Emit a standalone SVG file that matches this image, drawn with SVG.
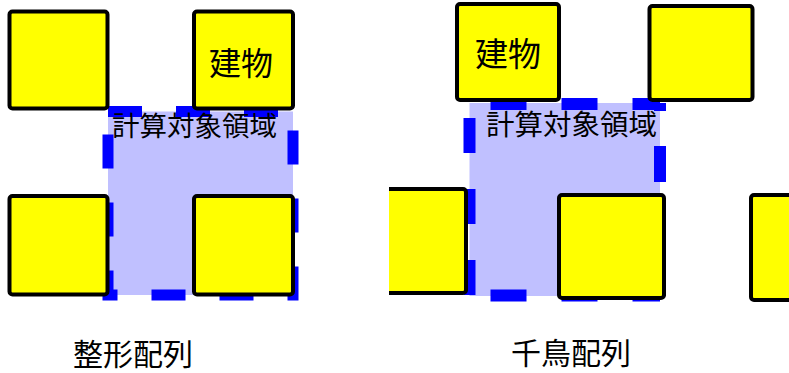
<svg xmlns="http://www.w3.org/2000/svg" width="789" height="373" viewBox="0 0 789 373">
<style>
.bld{fill:#ffff00;stroke:#000;stroke-width:4;}
.area{fill:#c0c0ff;}
.dash{fill:none;stroke:#0000ff;}
text{font-family:"Noto Sans CJK JP","Noto Sans CJK SC",sans-serif;fill:#000;}
.big{font-size:32px;text-anchor:middle;}
.reg{font-size:27.5px;}
.cap{font-size:30px;text-anchor:middle;}
</style>
<defs>
<clipPath id="rp"><rect x="389" y="0" width="400" height="373"/></clipPath>
</defs>
<rect width="789" height="373" fill="#fff"/>

<g id="panel-grid">
  <g id="region-grid">
    <rect class="area" x="108" y="111.5" width="185" height="183.5"/>
    <rect class="dash" x="108" y="111.5" width="185" height="183.5" stroke-width="11" stroke-dasharray="34 34"/>
    <text class="reg" x="112" y="136">計算対象領域</text>
  </g>
  <g id="bldg-grid-tl"><rect class="bld" x="9.5" y="11.5" width="98" height="97" rx="3"/></g>
  <g id="bldg-grid-tr"><rect class="bld" x="194" y="11.5" width="99" height="97" rx="3"/><text class="big" x="241" y="75">建物</text></g>
  <g id="bldg-grid-bl"><rect class="bld" x="9.5" y="196" width="98" height="98.5" rx="3"/></g>
  <g id="bldg-grid-br"><rect class="bld" x="194" y="196" width="99" height="98.5" rx="3"/></g>
  <text id="label-grid" class="cap" x="133" y="364.5">整形配列</text>
</g>

<g id="panel-staggered" clip-path="url(#rp)">
  <g id="region-staggered">
    <rect class="area" x="469.5" y="103" width="190.5" height="193"/>
    <line class="dash" x1="469.5" y1="104" x2="660" y2="104" stroke-width="12" stroke-dasharray="36 35" stroke-dashoffset="50"/>
    <line class="dash" x1="469.5" y1="295.5" x2="660" y2="295.5" stroke-width="12" stroke-dasharray="36 35" stroke-dashoffset="50"/>
    <line class="dash" x1="469.5" y1="103" x2="469.5" y2="296" stroke-width="12" stroke-dasharray="35 36" stroke-dashoffset="56"/>
    <line class="dash" x1="660" y1="103" x2="660" y2="296" stroke-width="12" stroke-dasharray="36 35" stroke-dashoffset="28"/>
    <text class="reg" x="486" y="135" style="font-size:28.5px">計算対象領域</text>
  </g>
  <g id="bldg-stag-tl"><rect class="bld" x="457" y="4" width="102" height="96" rx="3"/><text class="big" x="508" y="66" style="font-size:33px">建物</text></g>
  <g id="bldg-stag-tr"><rect class="bld" x="649.5" y="6" width="103" height="94" rx="3"/></g>
  <g id="bldg-stag-bl"><rect class="bld" x="360" y="189" width="106" height="104" rx="3"/></g>
  <g id="bldg-stag-bm"><rect class="bld" x="559" y="195" width="105" height="103" rx="3"/></g>
  <g id="bldg-stag-br"><rect class="bld" x="751" y="195" width="100" height="105" rx="3"/></g>
</g>
<text id="label-staggered" class="cap" x="571" y="364">千鳥配列</text>
</svg>
